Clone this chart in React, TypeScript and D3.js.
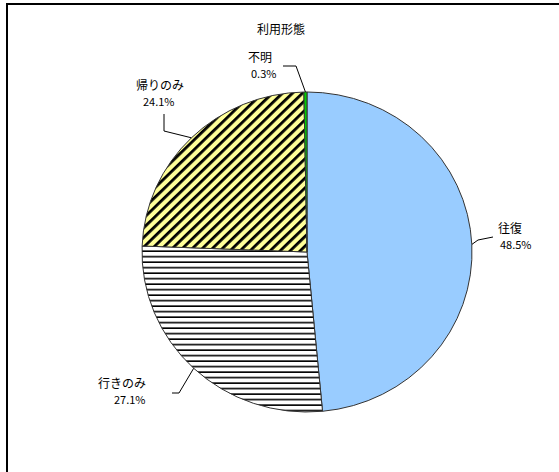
import React from "react";
import * as d3 from "d3";

const title = "利用形態";
const categories = ["往復", "行きのみ", "帰りのみ", "不明"];
const values = [48.5, 27.1, 24.1, 0.3];
const valueLabels = ["48.5%", "27.1%", "24.1%", "0.3%"];

const W = 559;
const H = 472;
const cx = 307;
const cy = 252;
const R = 163;
const sy = 160 / 163;
const sx = 165 / 163;

const fills = ["#99CCFF", "url(#hstripe)", "url(#dstripe)", "#00CC00"];

// label layout: [textX, textY(first line), anchor, leader points as offsets from edge point]
const labelLayout: { tx: number; ty: number; anchor: string; elbow: [number, number]; end: [number, number] }[] = [
  { tx: 498, ty: 233, anchor: "start", elbow: [478, 240], end: [493, 237] },
  { tx: 98, ty: 388, anchor: "start", elbow: [179, 393], end: [172, 393] },
  { tx: 136, ty: 90, anchor: "start", elbow: [164, 131], end: [164, 114] },
  { tx: 248, ty: 62, anchor: "start", elbow: [296, 66], end: [283, 66] },
];

export default function App() {
  const pie = d3
    .pie<number>()
    .sort(null)
    .value((d) => d)
    .startAngle(0)
    .endAngle(2 * Math.PI);
  const arcs = pie(values);
  const arc = d3.arc<d3.PieArcDatum<number>>().innerRadius(0).outerRadius(R);

  const font = "'Noto Sans CJK JP', 'Noto Sans', sans-serif";

  return (
    <svg
      width={W}
      height={H}
      style={{ position: "absolute", left: 0, top: 0, background: "#fff" }}
    >
      <defs>
        <pattern id="hstripe" patternUnits="userSpaceOnUse" width={8} height={5.6}>
          <rect width={8} height={5.6} fill="#fff" />
          <rect y={4} width={8} height={1.6} fill="#000" />
        </pattern>
        <pattern
          id="dstripe"
          patternUnits="userSpaceOnUse"
          width={7}
          height={7}
          patternTransform="rotate(45)"
        >
          <rect width={7} height={7} fill="#FFFF99" />
          <rect x={0} width={2.8} height={7} fill="#000" />
        </pattern>
      </defs>
      <rect x={7} y={4} width={W} height={H} fill="none" stroke="#000" strokeWidth={2} />
      <text
        x={281}
        y={34}
        textAnchor="middle"
        fontFamily={font}
        fontSize={12}
        fill="#000"
      >
        {title}
      </text>
      <g transform={`translate(${cx},${cy}) scale(${sx},${sy})`}>
        {arcs.map((a, i) => (
          <path
            key={categories[i]}
            d={arc(a) || ""}
            fill={fills[i]}
            stroke="#333"
            strokeWidth={1}
            vectorEffect="non-scaling-stroke"
          />
        ))}
      </g>
      {arcs.map((a, i) => {
        const mid = (a.startAngle + a.endAngle) / 2;
        const ex = cx + R * sx * Math.sin(mid);
        const ey = cy - R * sy * Math.cos(mid);
        const L = labelLayout[i];
        return (
          <g key={"l" + i}>
            <polyline
              points={`${ex},${ey} ${L.elbow[0]},${L.elbow[1]} ${L.end[0]},${L.end[1]}`}
              fill="none"
              stroke="#000"
              strokeWidth={1}
            />
            <text
              x={L.tx}
              y={L.ty}
              fontFamily={font}
              fontSize={12}
              fill="#000"
              textAnchor={L.anchor as any}
            >
              {categories[i]}
            </text>
            <text
              x={L.tx + (i === 1 ? 16 : i === 2 ? 7 : i === 3 ? 3 : 2)}
              y={L.ty + 16}
              fontFamily={font}
              fontSize={11}
              fill="#000"
              textAnchor={L.anchor as any}
            >
              {valueLabels[i]}
            </text>
          </g>
        );
      })}
    </svg>
  );
}
